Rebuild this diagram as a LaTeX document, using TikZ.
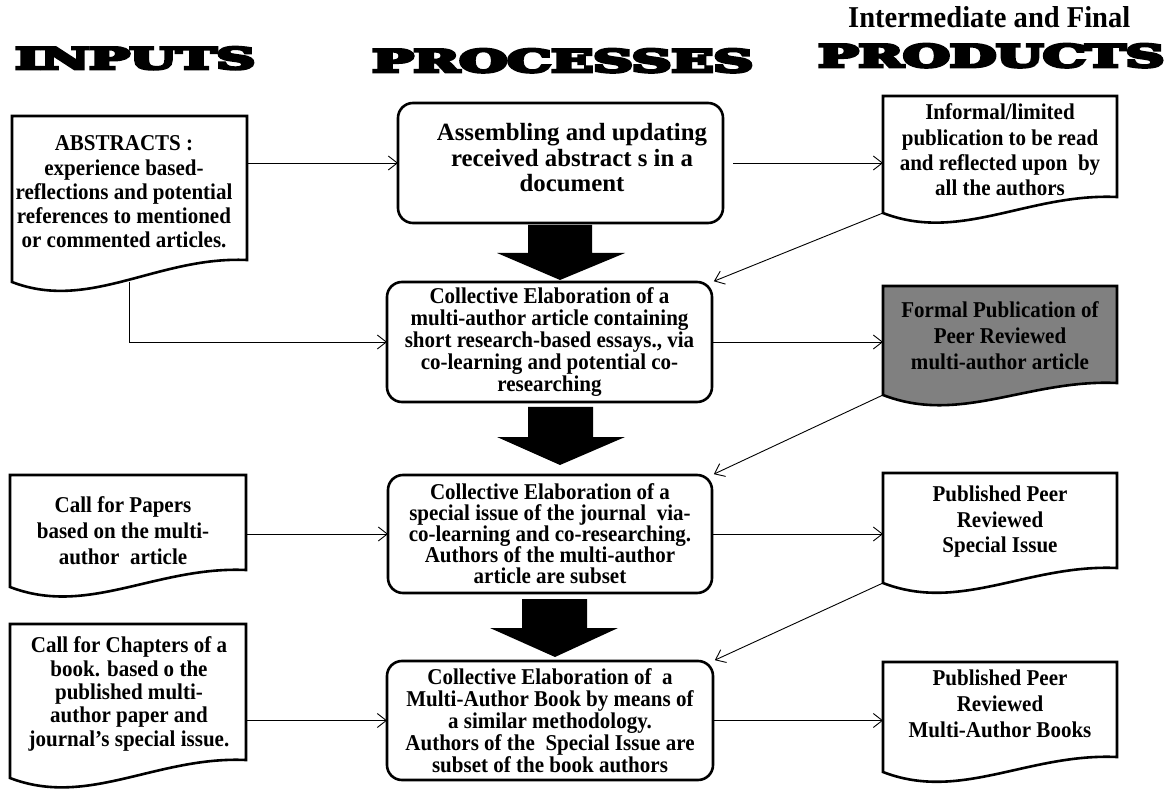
\documentclass[tikz,border=0pt]{standalone}
\usepackage{graphicx}
\usepackage{fontspec}
\setmainfont{Liberation Serif}[FakeStretch=0.93]
\newfontfamily\plainfont{Liberation Serif}
\newfontfamily\hdfont{DejaVu Serif}
\usetikzlibrary{arrows.meta,calc}
\definecolor{docgray}{RGB}{128,128,128}
\newcommand\heavytext[1]{\special{pdf:literal direct 2 Tr 0.9 w}#1\special{pdf:literal direct 0 Tr}}
\newcommand\docoutline[3]{\draw[docline,#3] (#1.north west) -- (#1.north east) -- ([yshift=#2pt]#1.south east) .. controls ($(#1.south west)!0.62!(#1.south east)+(0,-#2-4)$) and ($(#1.south west)!0.33!(#1.south east)+(0,30)$) .. (#1.south west) -- cycle;}
\begin{document}
\begin{tikzpicture}[x=1pt,y=-1pt,
  docbox/.style={draw=none,rectangle,inner sep=0pt,outer sep=0pt,anchor=north west},
  docline/.style={draw=black,line width=2.6pt,line join=miter,fill=white},
  procbox/.style={draw=black,line width=2.6pt,rounded corners=15pt,inner sep=0pt,outer sep=0pt,anchor=north west,align=center,font=\fontsize{22.6}{22}\selectfont\bfseries},
  txt/.style={align=center,inner sep=0pt,font=\fontsize{22.6}{25}\selectfont\bfseries},
  conn/.style={line width=0.9pt,-{Straight Barb[length=9pt,width=14pt]}},
  fat/.style={fill=black},
  hd/.style={anchor=base west,inner sep=0pt}]
\useasboundingbox (0,0) rectangle (1170,791);
\fill[white] (0,0) rectangle (1170,791);

% headers
\node[hd] (h-in) at (15,69) {\resizebox{240pt}{22pt}{\hdfont\bfseries\heavytext{INPUTS}}};
\node[hd] (h-pr) at (372,72) {\resizebox{381pt}{23pt}{\hdfont\bfseries\heavytext{PROCESSES}}};
\node[hd] (h-pd) at (818,67) {\resizebox{346pt}{23pt}{\hdfont\bfseries\heavytext{PRODUCTS}}};
\node[hd] (h-if) at (848,28) {\resizebox{282pt}{21pt}{\plainfont\bfseries Intermediate and Final}};

% document shapes (inputs)
\node[docbox,minimum width=235pt,minimum height=166pt] (abs) at (12,116) {};
\node[docbox,minimum width=236pt,minimum height=112pt] (cp) at (10,475) {};
\node[docbox,minimum width=236pt,minimum height=154pt] (cc) at (10,624) {};
% document shapes (products)
\node[docbox,minimum width=234pt,minimum height=117pt] (inf) at (883,96) {};
\node[docbox,minimum width=234pt,minimum height=109pt] (fp) at (883,286) {};
\node[docbox,minimum width=234pt,minimum height=110pt] (sp) at (883,473) {};
\node[docbox,minimum width=234pt,minimum height=110pt] (bk) at (883,662) {};

\docoutline{abs}{22}{}
\docoutline{cp}{17}{}
\docoutline{cc}{18}{}
\docoutline{inf}{16}{}
\docoutline{fp}{12}{fill=docgray}
\docoutline{sp}{15}{}
\docoutline{bk}{15}{}

\node[txt,font=\fontsize{22.6}{24.3}\selectfont\bfseries] (abs-t) at (124,192) {ABSTRACTS :\\experience based-\\reflections and potential\\references to mentioned\\or commented articles.};
\node[txt,font=\fontsize{22.6}{26}\selectfont\bfseries] (cp-t) at (123,531) {Call for Papers\\based on the multi-\\author\ \ article};
\node[txt,font=\fontsize{22.6}{23.3}\selectfont\bfseries] (cc-t) at (129,694) {Call for Chapters of a\\book. based o the\\published multi-\\author paper and\\journal’s special issue.};
\node[txt,font=\fontsize{22.6}{25.3}\selectfont\bfseries] (inf-t) at (1000,150) {Informal/limited\\publication to be read\\and reflected upon\ \ by\\all the authors};
\node[txt,font=\fontsize{22.6}{26}\selectfont\bfseries] (fp-t) at (1000,336) {Formal Publication of\\Peer Reviewed\\multi-author article};
\node[txt,font=\fontsize{22.6}{25.5}\selectfont\bfseries] (sp-t) at (1000,522) {Published Peer\\Reviewed\\Special Issue};
\node[txt,font=\fontsize{22.6}{26}\selectfont\bfseries] (bk-t) at (1000,704) {Published Peer\\Reviewed\\Multi-Author Books};

% process boxes
\node[procbox,minimum width=325pt,minimum height=120pt] (p1) at (398,103) {};
\node[txt,font=\plainfont\fontsize{24.8}{25.5}\selectfont\bfseries] (p1-t) at (572,158) {Assembling and updating\\received abstract s in a\\document};
\node[procbox,minimum width=325pt,minimum height=120pt] (p2) at (387,282) {Collective Elaboration of a\\multi-author article containing\\short research-based essays., via\\co-learning and potential co-\\researching};
\node[procbox,minimum width=324pt,minimum height=118pt,font=\fontsize{22.6}{21}\selectfont\bfseries] (p3) at (388,475) {Collective Elaboration of a\\special issue of the journal\ \ via-\\co-learning and co-researching.\\Authors of the multi-author\\article are subset};
\node[procbox,minimum width=326pt,minimum height=119pt] (p4) at (387,661) {Collective Elaboration of\ \ a\\Multi-Author Book by means of\\a similar methodology.\\Authors of the\ \ Special Issue are\\subset of the book authors};

% fat arrows
\fill[fat] (528,225) -- (592,225) -- (592,253) -- (625,253) -- (560,280) -- (497,253) -- (528,253) -- cycle;
\fill[fat] (528,407) -- (593,407) -- (593,437) -- (625,437) -- (560,465) -- (497,437) -- (528,437) -- cycle;
\fill[fat] (522,599) -- (587,599) -- (587,628) -- (618,628) -- (555,657) -- (490,628) -- (522,628) -- cycle;

% connectors
\draw[conn] (p1.west -| abs.east) -- (p1.west);
\draw[conn,shorten <=10pt] (p1.east) -- (p1.east -| inf.west);
\draw[conn,shorten >=2pt] (inf.south west) -- (p2.north east);
\draw[conn] (abs.south) |- (p2.west);
\draw[conn] (p2.east) -- (p2.east -| fp.west);
\draw[conn,shorten >=2pt] (fp.south west) -- (p3.north east);
\draw[conn] (p3.west -| cp.east) -- (p3.west);
\draw[conn] (p3.east) -- (p3.east -| sp.west);
\draw[conn,shorten >=2pt] (sp.south west) -- (p4.north east);
\draw[conn] (p4.west -| cc.east) -- (p4.west);
\draw[conn] (p4.east) -- (p4.east -| bk.west);
\end{tikzpicture}
\end{document}
